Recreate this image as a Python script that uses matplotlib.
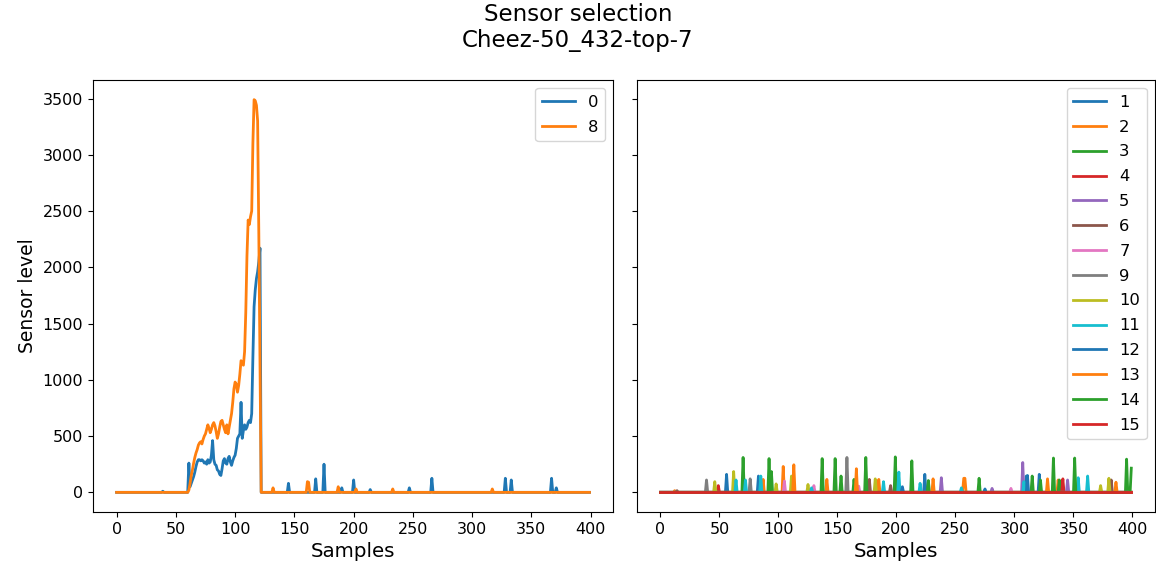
import numpy as np
import matplotlib
matplotlib.use('Agg')
import matplotlib.pyplot as plt

n_samples = 400

# sensors 0 and 8: values over the active window (samples 60..122)
burst_start = 60
sensor0_burst = [0, 260, 50, 80, 110, 140, 180, 230, 270, 290,
                 290, 280, 290, 280, 260, 270, 250, 290, 260, 270,
                 330, 460, 290, 250, 240, 200, 190, 160, 150, 210,
                 280, 300, 260, 250, 300, 320, 270, 240, 280, 310,
                 330, 390, 480, 500, 520, 800, 480, 550, 600, 560,
                 580, 620, 640, 620, 700, 1200, 1650, 1800, 1900, 1960,
                 2050, 2170, 0]
sensor8_burst = [0, 20, 80, 150, 200, 260, 310, 350, 380, 420,
                 440, 450, 430, 470, 500, 520, 560, 600, 570, 530,
                 560, 600, 620, 590, 540, 480, 520, 580, 630, 640,
                 600, 560, 530, 600, 520, 580, 640, 700, 800, 920,
                 980, 960, 890, 950, 1050, 1170, 1150, 1130, 1250, 1600,
                 2100, 2420, 2380, 2450, 2500, 3100, 3490, 3480, 3440, 3300,
                 2300, 1100, 0]
sensor0_spikes = {39: 10, 145: 80, 168: 120, 175: 250, 190: 40, 200: 110,
                  214: 25, 247: 40, 266: 125, 328: 125, 333: 110, 367: 125, 371: 40}
sensor8_spikes = {132: 40, 161: 95, 162: 90, 187: 50, 202: 30, 233: 30, 317: 30}

# other sensors: isolated spikes {sample: level}
other_labels = ['1', '2', '3', '4', '5', '6', '7', '9', '10', '11', '12', '13', '14', '15']
other_spikes = [
    {56: 160, 83: 145, 224: 160, 310: 145},                                  # 1
    {12: 15, 87: 115, 104: 230, 141: 115, 185: 115, 257: 125, 258: 125, 337: 110},  # 2
    {70: 310, 94: 185, 148: 300, 164: 115, 199: 315, 227: 105, 315: 145, 338: 110, 395: 295},  # 3
    {49: 60, 341: 120},                                                      # 4
    {238: 130, 281: 35, 307: 265, 345: 110},                                 # 5
    {14: 15, 177: 115, 195: 60, 382: 110},                                   # 6
    {105: 100, 130: 60, 168: 55, 297: 35},                                   # 7
    {39: 110, 76: 120, 158: 310},                                            # 9
    {46: 95, 62: 185, 98: 75, 111: 145, 125: 70, 182: 120, 373: 60, 380: 125},  # 10
    {64: 110, 72: 110, 85: 145, 128: 40, 189: 95, 202: 180, 220: 80, 255: 40,
     308: 95, 354: 130, 362: 145},                                           # 11
    {205: 50, 275: 30, 311: 150, 321: 160},                                  # 12
    {113: 245, 166: 210, 231: 120, 328: 120, 386: 90},                       # 13
    {92: 300, 137: 300, 153: 145, 174: 310, 213: 280, 270: 125, 322: 110,
     333: 305, 351: 305, 399: 215},                                          # 14
    {},                                                                      # 15
]


def build(spikes, burst=None):
    y = np.zeros(n_samples)
    if burst is not None:
        y[burst_start:burst_start + len(burst)] = burst
    for k, v in spikes.items():
        y[k] = v
    return y


x = np.arange(n_samples)
s0 = build(sensor0_spikes, sensor0_burst)
s8 = build(sensor8_spikes, sensor8_burst)

fs = 11.5
lw = 2.0
fig = plt.figure(figsize=(11.56, 5.69), dpi=100)
ax1 = fig.add_axes([0.0804, 0.1002, 0.450, 0.7592])
ax2 = fig.add_axes([0.551, 0.1002, 0.448, 0.7592], sharey=ax1)

ax1.plot(x, s0, label='0', lw=lw)
ax1.plot(x, s8, label='8', lw=lw)
ax1.legend(loc='upper right', fontsize=11.8, labelspacing=0.6)
ax1.set_xlabel('Samples', fontsize=14.3)
ax1.set_ylabel('Sensor level', fontsize=13.5)

for lab, sp in zip(other_labels, other_spikes):
    ax2.plot(x, build(sp), label=lab, lw=lw)
ax2.legend(loc='upper right', fontsize=11.8, labelspacing=0.6)
ax2.set_xlabel('Samples', fontsize=14.3)
plt.setp(ax2.get_yticklabels(), visible=False)

for ax in (ax1, ax2):
    ax.set_xticks([0, 50, 100, 150, 200, 250, 300, 350, 400])
    ax.tick_params(labelsize=fs)

fig.suptitle('Sensor selection\nCheez-50_432-top-7', fontsize=16.5, y=0.995)
fig.savefig('out.png', dpi=100)
